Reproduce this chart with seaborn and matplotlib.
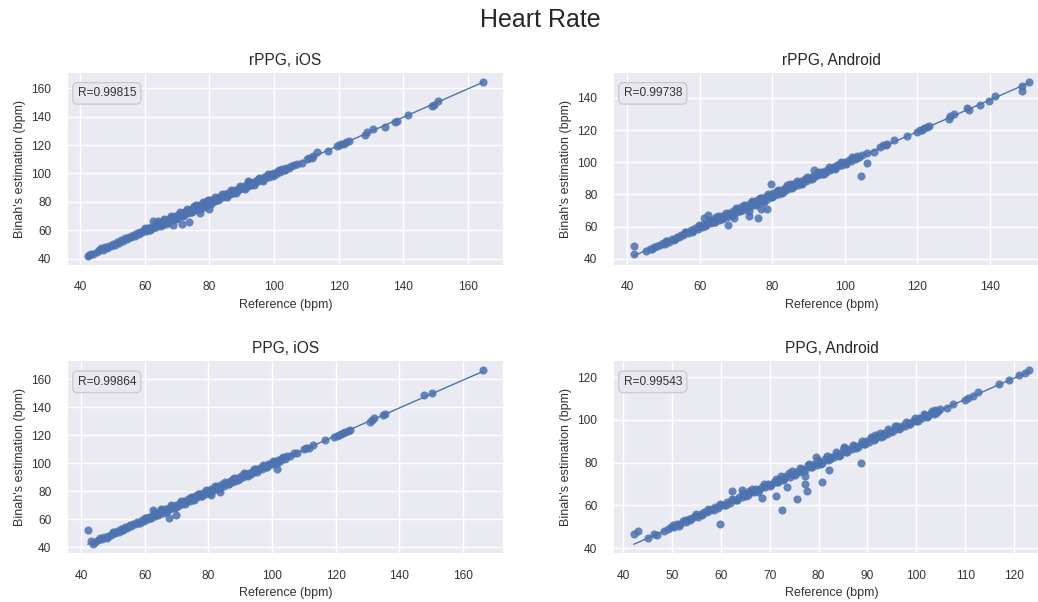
import pandas as pd
import matplotlib.pyplot as plt
import matplotlib.ticker as mticker
import seaborn as sns

# reference HR vs Binah estimation (ref, est)
rppg_ios = [
    (42.4, 42.0), (42.8, 42.6), (43.3, 43.1), (43.9, 43.5), (45.2, 44.8), (46.0, 46.3), (46.6, 47.4),
    (47.1, 46.2), (47.8, 48.1), (48.3, 47.6), (48.9, 49.0), (49.6, 48.7), (50.2, 50.3), (50.8, 49.8),
    (51.5, 51.6), (52.1, 51.2), (52.7, 53.0), (53.3, 52.6), (53.9, 54.3), (54.5, 53.8), (55.1, 55.6),
    (55.7, 55.0), (56.3, 56.6), (56.9, 56.1), (57.5, 57.9), (58.1, 57.3), (58.7, 58.9), (59.3, 58.5),
    (59.9, 60.4), (60.5, 59.6), (61.0, 61.5), (61.4, 60.2), (62.0, 62.6), (62.5, 66.8), (62.6, 61.4),
    (63.1, 63.5), (63.6, 62.3), (64.2, 64.8), (64.7, 63.6), (65.3, 65.9), (65.8, 64.4), (66.3, 66.9),
    (66.8, 65.7), (67.4, 68.2), (67.9, 66.6), (68.4, 69.3), (68.9, 63.8), (69.0, 67.9), (69.5, 70.1),
    (70.0, 68.8), (70.6, 71.2), (71.1, 69.9), (71.4, 64.5), (71.7, 72.5), (72.2, 70.8), (72.8, 73.6),
    (73.3, 72.0), (73.6, 65.8), (73.9, 74.5), (74.4, 73.1), (75.0, 75.8), (75.5, 74.2), (76.1, 76.9),
    (76.6, 75.2), (77.0, 72.3), (77.2, 78.1), (77.7, 76.4), (78.3, 79.2), (78.8, 77.5), (79.3, 80.4),
    (79.8, 78.4), (80.3, 81.6), (80.0, 74.8), (80.8, 79.6), (81.4, 82.1), (81.9, 80.9), (82.5, 83.0),
    (83.0, 82.0), (83.6, 84.1), (84.1, 83.2), (84.7, 85.5), (85.2, 84.3), (85.8, 86.4), (86.3, 85.4),
    (86.9, 87.5), (87.4, 86.6), (88.0, 88.6), (88.5, 87.7), (89.1, 89.7), (89.6, 88.9), (90.2, 90.6),
    (90.7, 89.9), (91.3, 91.8), (91.8, 91.0), (92.0, 94.5), (92.4, 92.9), (92.9, 92.1), (93.5, 93.9),
    (94.0, 93.2), (94.6, 95.1), (95.1, 94.4), (95.7, 96.2), (96.2, 95.5), (96.8, 97.3), (97.3, 96.6),
    (97.9, 98.4), (98.4, 97.7), (99.0, 99.6), (99.5, 98.8), (100.1, 100.5), (100.6, 99.9), (101.2, 101.6),
    (101.8, 101.0), (102.5, 102.8), (103.1, 102.2), (103.8, 104.2), (104.6, 103.7), (105.4, 105.5),
    (106.3, 105.9), (107.0, 106.5), (108.6, 107.2), (110.3, 110.0), (110.9, 111.2), (111.6, 110.7),
    (112.2, 112.0), (113.2, 115.2), (116.8, 115.9), (119.6, 119.1), (120.2, 119.8), (120.8, 120.6),
    (121.5, 121.0), (122.3, 122.1), (123.1, 122.7), (128.2, 126.8), (128.7, 129.1), (130.7, 131.0),
    (134.3, 133.0), (137.4, 136.5), (138.0, 137.2), (141.5, 141.2), (148.8, 147.7), (149.5, 148.4),
    (150.8, 151.0), (164.7, 164.6),
    (60.2, 61.8), (61.7, 59.9), (63.4, 65.0), (64.9, 63.0), (66.0, 67.6), (67.2, 65.5), (68.1, 69.9),
    (69.8, 68.0), (70.8, 72.6), (72.0, 70.0), (73.1, 74.8), (74.7, 72.6), (75.8, 77.5), (76.9, 74.8),
    (77.9, 79.9), (78.6, 76.5), (79.6, 81.5), (80.6, 78.6), (81.6, 83.2), (82.8, 81.0), (84.0, 85.6),
    (85.5, 83.6), (86.6, 88.2), (88.2, 86.5), (89.4, 91.0), (90.9, 89.2), (92.2, 93.8), (93.7, 92.0),
    (95.3, 96.8), (96.6, 95.0), (98.1, 99.4), (99.8, 98.3), (101.4, 102.6), (103.4, 102.3),
    (64.0, 66.3), (66.5, 64.5), (75.3, 76.8), (77.5, 75.5),
]

rppg_android = [
    (41.8, 47.8), (42.0, 42.7), (45.3, 45.0), (46.2, 46.4), (46.8, 45.9), (47.5, 47.3), (48.3, 48.0),
    (49.0, 48.6), (49.8, 49.9), (50.3, 49.2), (51.0, 51.1), (51.6, 50.4), (52.3, 52.5), (52.9, 51.8),
    (53.6, 53.8), (54.2, 53.3), (54.9, 55.0), (55.5, 54.6), (56.2, 56.4), (56.8, 55.9), (57.5, 57.7),
    (58.1, 57.3), (58.8, 59.0), (59.4, 58.6), (60.1, 60.3), (60.6, 59.6), (61.1, 65.3), (61.3, 61.6),
    (61.8, 60.8), (62.2, 67.3), (62.5, 62.9), (63.0, 62.0), (63.6, 64.2), (64.1, 63.1), (64.5, 66.0),
    (64.7, 65.2), (65.2, 64.1), (65.8, 66.4), (66.3, 65.3), (66.9, 67.5), (67.4, 66.2), (67.7, 60.8),
    (68.0, 68.6), (68.5, 67.3), (69.1, 69.7), (69.5, 65.3), (69.6, 68.4), (70.2, 70.8), (70.7, 69.5),
    (71.3, 71.9), (71.8, 70.6), (72.4, 73.0), (72.9, 71.7), (73.5, 74.1), (73.6, 66.3), (73.6, 69.8),
    (74.0, 72.8), (74.6, 75.2), (75.1, 73.9), (75.7, 76.4), (76.1, 65.3), (76.2, 75.0), (76.8, 71.0),
    (76.8, 77.6), (77.3, 76.1), (77.9, 78.7), (78.4, 77.2), (78.6, 71.0), (79.0, 79.8), (79.6, 86.5),
    (79.5, 78.3), (80.1, 80.8), (80.6, 79.4), (81.2, 81.9), (81.7, 80.5), (82.3, 83.0), (82.8, 81.6),
    (83.4, 84.1), (83.9, 82.7), (84.5, 85.2), (85.0, 86.5), (85.0, 83.8), (85.6, 86.2), (86.1, 85.0),
    (86.7, 87.3), (87.2, 86.1), (87.8, 88.3), (88.3, 87.2), (88.9, 89.4), (89.4, 88.3), (90.0, 90.5),
    (90.5, 89.5), (91.1, 91.6), (91.5, 95.0), (91.6, 90.6), (92.2, 92.7), (92.7, 91.8), (93.3, 93.8),
    (93.8, 92.9), (94.4, 94.9), (94.9, 94.0), (95.5, 96.0), (96.0, 95.1), (96.6, 97.1), (97.1, 96.3),
    (97.7, 98.2), (98.2, 97.5), (98.8, 99.3), (99.3, 98.6), (99.9, 100.4), (100.4, 99.7), (101.0, 101.4),
    (101.6, 100.9), (102.2, 102.6), (102.8, 101.9), (103.4, 103.7), (104.0, 103.2), (104.3, 91.4),
    (104.6, 104.5), (106.1, 99.7), (106.2, 105.6), (108.0, 106.5), (109.8, 109.6), (110.5, 110.5),
    (111.2, 111.0), (111.7, 111.6), (113.4, 113.6), (117.1, 116.4), (120.0, 119.0), (120.6, 119.8),
    (121.3, 120.3), (121.9, 121.2), (122.6, 122.0), (123.3, 122.6), (128.6, 127.0), (129.0, 128.7),
    (130.0, 130.3), (133.7, 133.7), (134.1, 132.8), (137.3, 135.9), (139.6, 138.3), (141.4, 141.0),
    (148.7, 147.6), (148.7, 144.5), (150.8, 150.1),
    (50.6, 51.2), (53.2, 52.4), (55.8, 56.8), (57.9, 56.9), (59.7, 60.8), (61.5, 60.3), (62.8, 64.2),
    (63.9, 62.6), (65.0, 66.6), (66.2, 64.5), (67.2, 68.6), (68.8, 67.0), (70.0, 71.5), (71.1, 69.5),
    (72.2, 73.7), (73.3, 71.9), (74.4, 76.0), (75.4, 73.6), (76.5, 78.0), (77.6, 75.6), (78.8, 80.4),
    (80.0, 78.6), (81.5, 83.0), (82.6, 81.1), (84.1, 85.6), (85.4, 84.0), (86.9, 88.4), (88.1, 86.6),
    (89.6, 91.0), (91.0, 89.6), (92.5, 93.8), (94.1, 92.8), (95.7, 97.0), (97.2, 95.9), (98.8, 100.0),
    (100.3, 99.0), (101.9, 103.1), (103.3, 102.4),
]

ppg_ios = [
    (42.1, 52.1), (43.1, 44.5), (43.7, 42.6), (44.3, 43.6), (45.2, 45.1), (46.0, 46.3), (46.7, 45.7),
    (47.3, 47.6), (48.0, 46.9), (48.6, 48.3), (49.3, 48.8), (49.9, 50.1), (50.6, 49.8), (51.2, 51.4),
    (51.9, 51.1), (52.5, 52.7), (53.2, 52.4), (53.8, 54.1), (54.5, 53.6), (55.1, 55.3), (55.8, 55.0),
    (56.4, 56.7), (57.1, 56.3), (57.7, 57.9), (58.4, 57.6), (59.0, 59.3), (59.7, 58.5), (60.3, 60.7),
    (60.9, 60.0), (61.5, 61.9), (62.1, 61.2), (62.5, 66.8), (62.7, 63.2), (63.3, 62.4), (63.9, 64.5),
    (64.5, 63.6), (65.0, 67.2), (65.1, 65.7), (65.7, 64.8), (66.3, 67.0), (66.9, 66.0), (67.5, 68.2),
    (67.7, 60.7), (68.1, 67.2), (68.7, 69.3), (69.3, 68.4), (69.8, 63.0), (69.9, 70.5), (70.5, 69.7),
    (71.1, 71.8), (71.7, 70.9), (72.3, 73.0), (72.9, 72.0), (73.5, 74.2), (74.1, 73.2), (74.7, 75.5),
    (75.3, 74.4), (75.9, 76.7), (76.5, 75.6), (77.1, 77.9), (77.7, 76.6), (78.3, 79.0), (78.9, 77.9),
    (79.5, 80.3), (80.1, 79.0), (80.8, 77.4), (80.7, 81.3), (81.3, 80.3), (81.9, 82.5), (82.5, 81.5),
    (83.1, 83.6), (83.7, 79.5), (83.7, 82.8), (84.3, 84.9), (84.9, 84.0), (85.5, 86.1), (86.1, 85.2),
    (86.7, 87.3), (87.3, 86.4), (87.9, 88.5), (88.5, 87.6), (89.1, 89.6), (89.7, 88.8), (90.3, 90.9),
    (90.9, 90.0), (91.5, 92.1), (92.1, 91.3), (92.7, 93.3), (93.3, 92.5), (93.9, 94.4), (94.5, 93.7),
    (95.1, 95.7), (95.7, 94.9), (96.3, 96.8), (96.9, 96.1), (97.5, 98.0), (98.1, 97.4), (98.7, 99.3),
    (99.3, 99.8), (99.9, 99.4), (100.6, 101.0), (101.2, 100.5), (101.7, 96.2), (101.9, 102.3),
    (102.6, 101.9), (103.3, 103.6), (104.0, 103.2), (104.8, 104.9), (105.7, 105.4), (106.9, 107.1),
    (107.8, 107.5), (110.0, 110.3), (110.8, 110.9), (111.5, 111.0), (113.0, 112.9), (116.8, 116.7),
    (119.6, 119.0), (120.3, 119.8), (121.0, 120.5), (121.7, 121.1), (122.4, 122.0), (123.1, 122.6),
    (123.8, 123.3), (124.5, 124.0), (130.9, 129.5), (131.5, 131.0), (132.0, 132.1), (135.0, 134.5),
    (135.6, 135.0), (147.8, 148.8), (150.2, 150.5), (166.4, 166.6),
    (50.0, 50.7), (52.9, 52.0), (55.4, 56.1), (58.0, 57.0), (60.0, 61.1), (61.8, 60.6), (63.0, 64.5),
    (64.2, 62.8), (65.4, 66.9), (66.6, 65.1), (68.4, 70.0), (69.6, 67.9), (71.4, 73.0), (72.6, 70.9),
    (74.4, 76.0), (75.6, 73.8), (76.8, 78.4), (78.0, 76.3), (79.2, 81.0), (80.4, 78.5), (82.2, 83.8),
    (83.4, 81.8), (85.2, 86.8), (86.4, 84.9), (88.2, 89.7), (89.4, 88.0), (91.2, 92.8), (92.4, 91.0),
    (94.2, 95.7), (95.4, 94.1), (97.2, 98.6), (98.4, 97.1), (100.2, 101.4), (101.5, 100.3), (103.6, 104.5),
]

ppg_android = [
    (42.2, 46.8), (43.0, 47.9), (45.2, 44.8), (46.4, 46.8), (46.9, 46.0), (48.4, 47.9), (49.3, 49.0),
    (49.9, 49.8), (50.5, 50.1), (51.1, 51.2), (51.7, 51.5), (52.3, 52.6), (52.9, 52.3), (53.5, 53.5),
    (54.1, 54.0), (54.7, 55.0), (55.3, 54.6), (55.9, 56.2), (56.5, 56.9), (57.1, 56.8), (57.7, 57.9),
    (58.3, 58.2), (58.9, 59.3), (59.5, 59.0), (59.9, 51.3), (60.1, 60.4), (60.7, 60.0), (61.3, 61.6),
    (61.9, 61.2), (62.4, 66.7), (62.5, 62.7), (63.1, 62.5), (63.7, 64.0), (64.3, 63.8), (64.4, 67.4),
    (64.9, 65.2), (65.5, 64.9), (65.8, 67.0), (66.1, 66.4), (66.7, 66.1), (67.3, 67.7), (67.9, 67.2),
    (68.5, 63.4), (68.5, 68.8), (69.1, 68.6), (69.7, 70.1), (70.3, 69.7), (70.9, 71.2), (71.2, 64.5),
    (71.5, 70.9), (72.1, 72.4), (72.6, 58.1), (72.7, 72.0), (73.3, 73.6), (73.6, 68.7), (73.9, 75.2),
    (74.2, 73.5), (74.8, 74.9), (75.4, 75.8), (75.5, 63.1), (76.0, 75.5), (76.6, 77.0), (77.2, 70.1),
    (77.2, 76.6), (77.3, 73.6), (77.6, 67.0), (77.8, 78.9), (78.4, 77.8), (79.0, 79.3), (79.4, 82.5),
    (79.6, 78.8), (80.2, 80.5), (80.8, 71.2), (80.8, 79.8), (81.4, 81.6), (82.0, 81.2), (82.1, 76.7),
    (82.6, 82.9), (83.2, 82.6), (83.8, 84.1), (84.4, 83.8), (85.0, 85.4), (85.2, 87.3), (85.6, 85.1),
    (86.2, 86.5), (86.8, 86.2), (87.4, 87.7), (88.0, 87.4), (88.6, 88.9), (88.7, 79.9), (89.2, 88.7),
    (89.8, 90.1), (90.4, 89.8), (91.0, 91.4), (91.6, 93.2), (91.6, 91.0), (92.2, 92.5), (92.8, 92.1),
    (93.4, 93.7), (94.0, 93.5), (94.6, 94.9), (95.2, 94.7), (95.7, 97.4), (95.8, 96.1), (96.4, 95.8),
    (97.0, 97.3), (97.6, 97.0), (98.2, 98.5), (98.8, 98.3), (99.4, 99.7), (100.0, 99.5), (100.6, 100.9),
    (101.2, 100.7), (101.8, 102.1), (102.4, 101.8), (103.0, 103.2), (103.6, 102.9), (103.9, 104.7),
    (104.4, 104.1), (106.3, 105.4), (107.6, 107.4), (110.0, 109.3), (110.6, 110.5), (111.6, 111.3),
    (112.7, 113.2), (116.9, 116.6), (119.0, 118.9), (121.0, 120.9), (122.2, 122.2), (123.1, 123.3),
    (50.2, 50.8), (51.4, 50.6), (52.6, 53.4), (53.8, 53.0), (55.0, 55.8), (56.2, 55.6), (57.4, 58.3),
    (58.6, 57.7), (59.8, 60.9), (61.0, 60.3), (62.2, 63.2), (63.4, 62.6), (64.6, 65.9), (65.2, 64.2),
    (66.4, 67.6), (67.6, 66.5), (68.8, 70.0), (70.0, 68.9), (71.2, 72.6), (71.8, 71.0), (72.4, 73.8),
    (73.0, 72.4), (74.5, 76.2), (75.1, 74.3), (76.3, 77.6), (76.9, 75.9), (78.1, 79.6), (78.7, 78.0),
    (79.9, 81.3), (80.5, 79.5), (81.7, 83.0), (82.3, 81.6), (83.5, 85.0), (84.1, 83.3), (85.3, 86.7),
    (85.9, 85.0), (87.1, 88.4), (87.7, 86.9), (88.9, 90.2), (89.5, 88.9), (90.7, 92.2), (91.3, 90.5),
    (92.5, 93.8), (93.1, 92.5), (94.3, 95.6), (94.9, 94.2), (96.1, 97.3), (96.7, 96.1), (97.9, 99.0),
    (98.5, 97.9), (99.7, 100.9), (100.3, 99.7), (101.5, 102.6), (102.1, 101.5), (103.3, 104.4),
    (104.0, 103.3), (104.8, 105.2),
]

panel_titles = ["rPPG, iOS", "rPPG, Android", "PPG, iOS", "PPG, Android"]
r_values = ["0.99815", "0.99738", "0.99864", "0.99543"]
x_steps = [20, 20, 20, 10]
y_steps = [20, 20, 20, 20]

sns.set_theme(style="darkgrid")
plt.rcParams["font.family"] = ["Liberation Sans", "DejaVu Sans"]

fig, axes = plt.subplots(2, 2, figsize=(10.38, 6.02))
fig.subplots_adjust(left=0.0655, right=1.0106, bottom=0.0814, top=0.8787,
                    wspace=0.255, hspace=0.506)

datasets = [rppg_ios, rppg_android, ppg_ios, ppg_android]
for ax, pts, title, r, xs, ys in zip(axes.flat, datasets, panel_titles, r_values, x_steps, y_steps):
    df = pd.DataFrame(pts, columns=["ref", "est"])
    sns.regplot(data=df, x="ref", y="est", ax=ax, ci=None, color="#4C72B0",
                scatter_kws={"s": 34, "alpha": 0.85, "linewidths": 0},
                line_kws={"lw": 1})
    ax.xaxis.set_major_locator(mticker.MultipleLocator(xs))
    ax.yaxis.set_major_locator(mticker.MultipleLocator(ys))
    ax.tick_params(length=0, pad=5, labelsize=8.6, labelcolor="#333333")
    ax.set_title(title, fontsize=11.2, color="#262626")
    ax.set_xlabel("Reference (bpm)", fontsize=9, color="#333333")
    ax.set_ylabel("Binah's estimation (bpm)", fontsize=9, color="#333333")
    ax.text(0.022, 0.925, f"R={r}", transform=ax.transAxes, fontsize=8.6,
            ha="left", va="top", color="#333333",
            bbox=dict(boxstyle="round,pad=0.4", facecolor="#E8E8EE", edgecolor="#CCCCCC"))
    sns.despine(ax=ax, offset=7)

fig.suptitle("Heart Rate", fontsize=18, x=0.521, y=0.967, va="center", color="#262626")

fig.savefig("out.png", dpi=100)
